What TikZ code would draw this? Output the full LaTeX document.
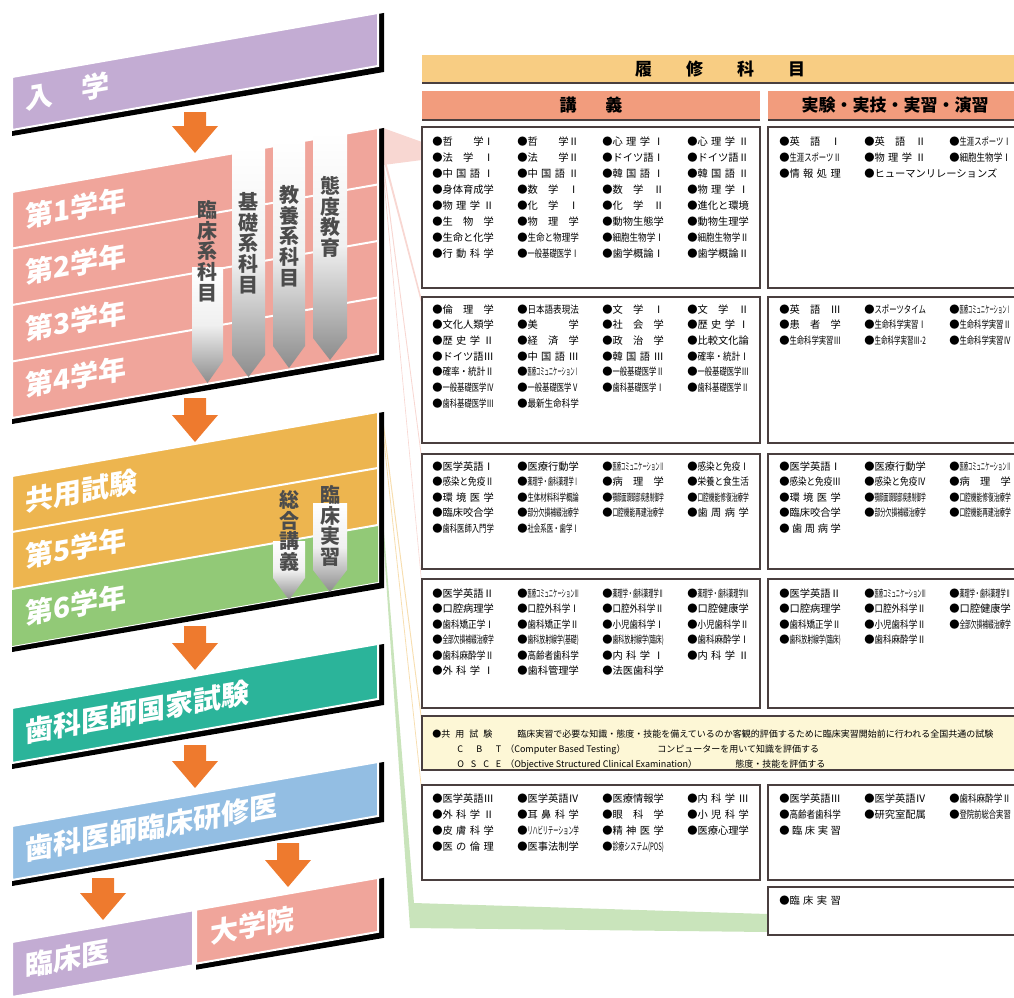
\documentclass[tikz,border=0pt]{standalone}
\usepackage{fontspec}
\usepackage{graphicx}
\setmainfont{Noto Sans CJK JP}
\usetikzlibrary{positioning}

\definecolor{nyugaku}{HTML}{C3ACD3}
\definecolor{gakunen}{HTML}{F0A59B}
\definecolor{kyoyo}{HTML}{EDB54F}
\definecolor{rokunen}{HTML}{92C977}
\definecolor{kokushi}{HTML}{2BB49A}
\definecolor{kenshu}{HTML}{93BEE3}
\definecolor{yajirushi}{HTML}{EE7A2E}
\definecolor{rishu}{HTML}{F8CD83}
\definecolor{kogi}{HTML}{F29C7D}
\definecolor{cbtfill}{HTML}{FDF7D6}
\definecolor{waku}{HTML}{4A3F3F}

\newlength\subjw
\setlength\subjw{38.5pt}
\newcommand\fitsubj[1]{●\sbox0{#1}\ifdim\wd0>\subjw\resizebox{\subjw}{\height}{#1}\else\makebox[\subjw][s]{#1}\fi}

\def\bandslope{0.175}
% band: left x, right x, top y, bottom y, colour
\newcommand\bandfill[5]{%
  \fill[#5, draw=white, line width=1.5pt] (#1,#3) -- (#2,{#3-\bandslope*(#2-#1)}) -- (#2,{#4-\bandslope*(#2-#1)}) -- (#1,#4) -- cycle;}
\newcommand\band[5]{%
  \fill[black] (#1,#3) -- ({#2+6},{#3-\bandslope*(#2-#1)}) -- ({#2+6},{#4+6-\bandslope*(#2-#1)}) -- (#1,{#4+6}) -- cycle;
  \bandfill{#1}{#2}{#3}{#4}{#5}}
\newcommand\divline[3]{\draw[white, line width=1.5pt] (#1,#3) -- (#2,{#3-\bandslope*(#2-#1)});}
% orange arrow: centre x, top y, tip y
\newcommand\downarr[3]{\fill[yajirushi] ({#1-11},#2) -- ({#1+11},#2) -- ({#1+11},{#3-27}) -- ({#1+23},{#3-27}) -- (#1,#3) -- ({#1-23},{#3-27}) -- ({#1-11},{#3-27}) -- cycle;}
% grey arrow: left x, right x, top y, tip y
\newcommand\grayarr[4]{\shade[top color=white, bottom color=black!45, middle color=black!6] (#1,#3) -- (#2,#3) -- (#2,{#4-22}) -- ({(#1+#2)/2},#4) -- (#1,{#4-22}) -- cycle;}
% subject list: x, y, line step, columns, name, list
\newcommand\subjlist[6]{%
  \foreach \s [count=\i from 0] in {#6} {
    \pgfmathtruncatemacro\kcol{mod(\i,#4)}
    \pgfmathtruncatemacro\krow{div(\i,#4)}
    \node[subj] (#5-\i) at ({#1+85*\kcol},{#2+#3*\krow}) {\fitsubj{\s}};
  }}

\begin{document}
\begin{tikzpicture}[x=0.75pt, y=-0.75pt,
  stage/.style={anchor=west, inner sep=0pt, text=white, yslant=0.175, text height=0.86em, text depth=0.1em, font=\fontsize{21}{21}\selectfont\bfseries},
  tate/.style={inner sep=0pt, align=center, text=black!70, font=\fontsize{15}{15.5}\selectfont\bfseries},
  subj/.style={anchor=west, inner sep=0pt, text height=0.86em, text depth=0.1em, font=\fontsize{7.7}{8}\selectfont},
  cbt/.style={anchor=west, inner sep=0pt, text height=0.86em, text depth=0.1em, font=\fontsize{6.75}{7}\selectfont},
  midasi/.style={inner sep=0pt, font=\fontsize{12.75}{13}\selectfont\bfseries},
  waku/.style={draw=waku, line width=1.2pt},
  pinkribbon/.style={fill=gakunen!45},
  orangeribbon/.style={fill=kyoyo!45},
  greenribbon/.style={fill=rokunen!50}]

\useasboundingbox (0,0) rectangle (1014,997);

% Ribbons to the tables
\fill[pinkribbon] (383,128) -- (422,142) -- (422,160) -- (383,165) -- cycle;
\fill[pinkribbon] (383,150) -- (422,300) -- (422,306) -- (383,158) -- cycle;
\fill[pinkribbon] (383,158) -- (422,458) -- (422,464) -- (383,166) -- cycle;
\fill[pinkribbon] (383,166) -- (422,584) -- (422,590) -- (383,174) -- cycle;
\fill[orangeribbon] (383,418) -- (422,720) -- (422,727) -- (383,426) -- cycle;
\fill[orangeribbon] (383,428) -- (422,790) -- (422,797) -- (383,436) -- cycle;
\fill[greenribbon] (383,520) -- (414,903) -- (768,914) -- (768,932) -- (410,928) -- (383,535) -- cycle;

% Entrance
\band{12}{378}{77}{130}{nyugaku}
\node[stage] (nyugaku) at (25,104) {入\quad 学};
\downarr{195}{112}{153}

% Years 1-4
\band{12}{378}{192}{418}{gakunen}
\divline{12}{378}{248.5}
\divline{12}{378}{305}
\divline{12}{378}{361.5}
\grayarr{192}{223}{267}{383}
\grayarr{232}{265}{147}{377}
\grayarr{273}{305}{140}{368}
\grayarr{313}{347}{132}{360}
\node[tate] (rinsho) at (207,251) {臨\\床\\系\\科\\目};
\node[tate] (kiso) at (248,243) {基\\礎\\系\\科\\目};
\node[tate] (kyoyokei) at (289,236) {教\\養\\系\\科\\目};
\node[tate] (taido) at (330,217) {態\\度\\教\\育};
\node[stage] (nen1) at (25,222) {第1学年};
\node[stage] (nen2) at (25,278.5) {第2学年};
\node[stage] (nen3) at (25,335) {第3学年};
\node[stage] (nen4) at (25,391.5) {第4学年};
\downarr{195}{398}{442}

% CBT/OSCE, years 5-6
\band{12}{378}{476}{646}{kyoyo}
\fill[rokunen] (12,589) -- (378,{589-\bandslope*366}) -- (378,{646-\bandslope*366}) -- (12,646) -- cycle;
\divline{12}{378}{532}
\divline{12}{378}{589}
\grayarr{273}{305}{541}{600}
\grayarr{313}{347}{503}{592}
\node[tate] (sogo) at (289,531) {総\\合\\講\\義};
\node[tate] (jisshu) at (330,526) {臨\\床\\実\\習};
\node[stage] (kyoyoshiken) at (25,506) {共用試験};
\node[stage] (nen5) at (25,562) {第5学年};
\node[stage] (nen6) at (25,619) {第6学年};
\downarr{195}{626}{670}

% National exam and residency
\band{12}{378}{708}{763}{kokushi}
\node[stage] (kokushi) at (25,737) {歯科医師国家試験};
\downarr{195}{745}{788}
\band{12}{378}{826}{880}{kenshu}
\node[stage] (kenshu) at (25,855) {歯科医師臨床研修医};
\downarr{103}{878}{920}
\downarr{288}{843}{887}
\band{196}{378}{909.7}{963.7}{gakunen}
\bandfill{12}{193}{942}{997}{nyugaku}
\node[stage] (rinshoi) at (25,971) {臨床医};
\node[stage] (daigakuin) at (210,938) {大学院};

% Table headers
\fill[rishu] (422,55) rectangle (1014,83);
\draw[waku, line width=0.8pt] (422,83) -- (1014,83);
\node[midasi] (rishu) at (720,69) {履\hspace{2em}修\hspace{2em}科\hspace{2em}目};
\fill[kogi] (422,91) rectangle (760,120);
\fill[kogi] (768,91) rectangle (1014,120);
\draw[waku, line width=0.8pt] (422,120) -- (760,120) (768,120) -- (1014,120);
\node[midasi] (kogi) at (591,105.5) {講\hspace{1.7em}義};
\node[midasi] (jikken) at (895,105.5) {実験・実技・実習・演習};

% Boxes
\foreach \t/\b in {127/288, 297/443, 454/569, 579/708, 785/880} {
  \draw[waku, fill=white] (422,\t) rectangle (760,\b);
  \draw[waku, fill=white] (768,\t) rectangle (1030,\b);
}
\draw[waku, fill=white] (768,887) rectangle (1030,935);
\draw[waku, fill=cbtfill] (422,716) rectangle (1030,770);

% Subjects
\subjlist{432}{140}{16}{4}{k1}{哲 学Ⅰ, 哲 学Ⅱ, 心 理 学 Ⅰ, 心 理 学 Ⅱ,
  法 学 Ⅰ, 法 学Ⅱ, ドイツ語Ⅰ, ドイツ語Ⅱ,
  中 国 語 Ⅰ, 中 国 語 Ⅱ, 韓 国 語 Ⅰ, 韓 国 語 Ⅱ,
  身体育成学, 数 学 Ⅰ, 数 学 Ⅱ, 物 理 学 Ⅰ,
  物 理 学 Ⅱ, 化 学 Ⅰ, 化 学 Ⅱ, 進化と環境,
  生 物 学, 物 理 学, 動物生態学, 動物生理学,
  生命と化学, 生命と物理学, 細胞生物学Ⅰ, 細胞生物学Ⅱ,
  行 動 科 学, 一般基礎医学Ⅰ, 歯学概論Ⅰ, 歯学概論Ⅱ}
\subjlist{779}{140}{16}{3}{j1}{英 語 Ⅰ, 英 語 Ⅱ, 生涯スポーツⅠ,
  生涯スポーツⅡ, 物 理 学 Ⅱ, 細胞生物学Ⅰ,
  情 報 処 理, \rlap{ヒューマンリレーションズ}}
\subjlist{432}{308}{15.7}{4}{k2}{倫 理 学, 日本語表現法, 文 学 Ⅰ, 文 学 Ⅱ,
  文化人類学, 美 学, 社 会 学, 歴 史 学 Ⅰ,
  歴 史 学 Ⅱ, 経 済 学, 政 治 学, 比較文化論,
  ドイツ語Ⅲ, 中 国 語 Ⅲ, 韓 国 語 Ⅲ, 確率・統計Ⅰ,
  確率・統計Ⅱ, 医療コミュニケーションⅠ, 一般基礎医学Ⅱ, 一般基礎医学Ⅲ,
  一般基礎医学Ⅳ, 一般基礎医学Ⅴ, 歯科基礎医学Ⅰ, 歯科基礎医学Ⅱ,
  歯科基礎医学Ⅲ, 最新生命科学}
\subjlist{779}{308}{15.7}{3}{j2}{英 語 Ⅲ, スポーツタイム, 医療コミュニケーションⅠ,
  患 者 学, 生命科学実習Ⅰ, 生命科学実習Ⅱ,
  生命科学実習Ⅲ, 生命科学実習Ⅲ-2, 生命科学実習Ⅳ}
\subjlist{432}{465}{15.6}{4}{k3}{医学英語Ⅰ, 医療行動学, 医療コミュニケーションⅡ, 感染と免疫Ⅰ,
  感染と免疫Ⅱ, 薬理学・歯科薬理学Ⅰ, 病 理 学, 栄養と食生活,
  環 境 医 学, 生体材料科学概論, 顎顔面頭頸部疾患制御学, 口腔機能修復治療学,
  臨床咬合学, 部分欠損補綴治療学, 口腔機能再建治療学, 歯 周 病 学,
  歯科医師入門学, 社会系医・歯学Ⅰ}
\subjlist{779}{465}{15.6}{3}{j3}{医学英語Ⅰ, 医療行動学, 医療コミュニケーションⅡ,
  感染と免疫Ⅲ, 感染と免疫Ⅳ, 病 理 学,
  環 境 医 学, 顎顔面頭頸部疾患制御学, 口腔機能修復治療学,
  臨床咬合学, 部分欠損補綴治療学, 口腔機能再建治療学,
  ~歯 周 病 学}
\subjlist{432}{592}{15.5}{4}{k4}{医学英語Ⅱ, 医療コミュニケーションⅢ, 薬理学・歯科薬理学Ⅱ, 薬理学・歯科薬理学Ⅲ,
  口腔病理学, 口腔外科学Ⅰ, 口腔外科学Ⅱ, 口腔健康学,
  歯科矯正学Ⅰ, 歯科矯正学Ⅱ, 小児歯科学Ⅰ, 小児歯科学Ⅱ,
  全部欠損補綴治療学, 歯科放射線学(基礎), 歯科放射線学(臨床), 歯科麻酔学Ⅰ,
  歯科麻酔学Ⅱ, 高齢者歯科学, 内 科 学 Ⅰ, 内 科 学 Ⅱ,
  外 科 学 Ⅰ, 歯科管理学, 法医歯科学}
\subjlist{779}{592}{15.5}{3}{j4}{医学英語Ⅱ, 医療コミュニケーションⅢ, 薬理学・歯科薬理学Ⅱ,
  口腔病理学, 口腔外科学Ⅱ, 口腔健康学,
  歯科矯正学Ⅱ, 小児歯科学Ⅱ, 全部欠損補綴治療学,
  歯科放射線学(臨床), 歯科麻酔学Ⅱ}
\subjlist{432}{797}{16}{4}{k5}{医学英語Ⅲ, 医学英語Ⅳ, 医療情報学, 内 科 学 Ⅲ,
  外 科 学 Ⅱ, 耳 鼻 科 学, 眼 科 学, 小 児 科 学,
  皮 膚 科 学, リハビリテーション学, 精 神 医 学, 医療心理学,
  医 の 倫 理, 医事法制学, 診療システム(POS)}
\subjlist{779}{797}{16}{3}{j5}{医学英語Ⅲ, 医学英語Ⅳ, 歯科麻酔学Ⅱ,
  高齢者歯科学, 研究室配属, 登院前総合実習,
  ~臨 床 実 習}
\subjlist{779}{899}{16}{3}{j6}{臨 床 実 習}

% Common exam note
\node[cbt] (cbt-a) at (432,732) {\makebox[45pt][s]{●共 用 試 験}};
\node[cbt] (cbt-b) at (517,732) {臨床実習で必要な知識・態度・技能を備えているのか客観的評価するために臨床実習開始前に行われる全国共通の試験};
\node[cbt] (cbt-c) at (457,747) {\makebox[33pt][s]{C B T}};
\node[cbt] (cbt-d) at (505,747) {（Computer Based Testing）};
\node[cbt] (cbt-e) at (657,747) {コンピューターを用いて知識を評価する};
\node[cbt] (cbt-f) at (457,762) {\makebox[33pt][s]{O S C E}};
\node[cbt] (cbt-g) at (505,762) {（Objective Structured Clinical Examination）};
\node[cbt] (cbt-h) at (735,762) {態度・技能を評価する};

\end{tikzpicture}
\end{document}
